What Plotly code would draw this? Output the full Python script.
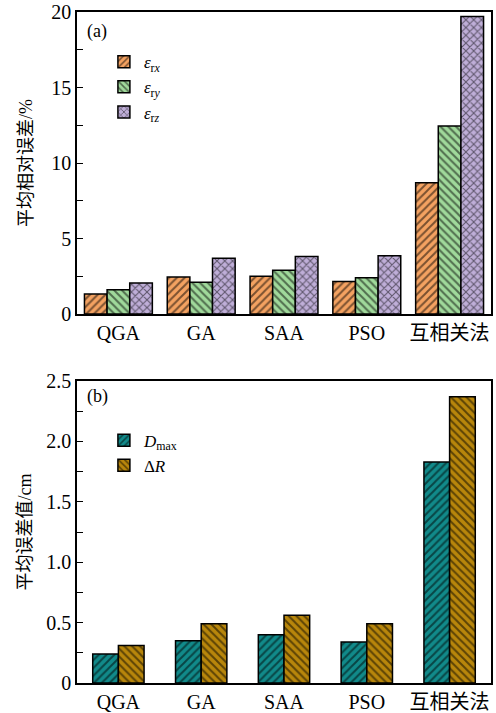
import plotly.graph_objects as go

categories = ["QGA", "GA", "SAA", "PSO", "互相关法"]
eps_rx = [1.32, 2.45, 2.5, 2.15, 8.7]
eps_ry = [1.6, 2.1, 2.9, 2.4, 12.45]
eps_rz = [2.05, 3.7, 3.8, 3.85, 19.7]
d_max = [0.24, 0.35, 0.40, 0.34, 1.83]
delta_r = [0.31, 0.49, 0.56, 0.49, 2.37]

ya_ticks = [0, 5, 10, 15, 20]
ya_ticktext = ["0", "5", "10", "15", "20"]
yb_ticks = [0, 0.5, 1.0, 1.5, 2.0, 2.5]
yb_ticktext = ["0", "0.5", "1.0", "1.5", "2.0", "2.5"]

SERIF = "Liberation Serif, DejaVu Serif, Noto Sans CJK SC"
CJK = "Liberation Serif, Noto Sans CJK SC"

fig = go.Figure()

def bar(x, y, name, color, shape, xa, ya, legend):
    return go.Bar(
        x=x, y=y, name=name, xaxis=xa, yaxis=ya, legend=legend,
        marker=dict(color=color, line=dict(color="black", width=1.5),
                    pattern=dict(shape=shape, fgcolor="black", size=5.5,
                                 solidity=0.35, fillmode="overlay")),
    )

fig.add_trace(bar(categories, eps_rx, "<i>ε</i><sub>r<i>x</i></sub>", "#F4A261", "/", "x", "y", "legend"))
fig.add_trace(bar(categories, eps_ry, "<i>ε</i><sub>r<i>y</i></sub>", "#A0D99B", "\\", "x", "y", "legend"))
fig.add_trace(bar(categories, eps_rz, "<i>ε</i><sub>r<i>z</i></sub>", "#BFAED8", "x", "x", "y", "legend"))
fig.add_trace(bar(categories, d_max, "<i>D</i><sub>max</sub>", "#118A8A", "/", "x2", "y2", "legend2"))
fig.add_trace(bar(categories, delta_r, "Δ<i>R</i>", "#B8860B", "\\", "x2", "y2", "legend2"))

axis_common = dict(showline=True, linecolor="black", linewidth=1.5, mirror=True,
                   showgrid=False, zeroline=False, automargin=False,
                   ticklabeloverflow="allow",
                   tickfont=dict(family=CJK, size=20, color="black"))

yb_d = 302 / 671
ya_d0 = (683 - 314) / 671

fig.update_layout(
    width=496, height=713,
    margin=dict(l=77, r=5, t=12, b=30),
    paper_bgcolor="white", plot_bgcolor="white",
    barmode="group",
    font=dict(family=SERIF, size=16, color="black"),
    xaxis=dict(domain=[0, 1], anchor="y", ticks="", **axis_common),
    yaxis=dict(domain=[ya_d0, 1], anchor="x", range=[0, 20],
               tickvals=ya_ticks, ticktext=ya_ticktext, ticks="inside", ticklen=6,
               tickcolor="black", tickwidth=1.2,
               minor=dict(dtick=2.5, ticks="inside", ticklen=6, tickcolor="black", tickwidth=1.2),
               title=dict(text="平均相对误差/%", font=dict(family=CJK, size=18), standoff=14),
               **axis_common),
    xaxis2=dict(domain=[0, 1], anchor="y2", ticks="", **axis_common),
    yaxis2=dict(domain=[0, yb_d], anchor="x2", range=[0, 2.5],
                tickvals=yb_ticks, ticktext=yb_ticktext, ticks="inside", ticklen=6,
                tickcolor="black", tickwidth=1.2,
                minor=dict(dtick=0.25, ticks="inside", ticklen=6, tickcolor="black", tickwidth=1.2),
                title=dict(text="平均误差值/cm", font=dict(family=CJK, size=18), standoff=10),
                **axis_common),
    bargap=0.18,
    legend=dict(x=0.065, y=0.952, xanchor="left", yanchor="top", bgcolor="rgba(0,0,0,0)",
                font=dict(family=SERIF, size=17), tracegroupgap=0, itemwidth=30),
    legend2=dict(x=0.065, y=yb_d - 0.062, xanchor="left", yanchor="top", bgcolor="rgba(0,0,0,0)",
                 font=dict(family=SERIF, size=17), tracegroupgap=0, itemwidth=30),
    annotations=[
        dict(text="(a)", x=0.02, y=0.99, xref="paper", yref="paper", xanchor="left",
             yanchor="top", showarrow=False, font=dict(family=SERIF, size=18)),
        dict(text="(b)", x=0.02, y=yb_d - 0.004, xref="paper", yref="paper", xanchor="left",
             yanchor="top", showarrow=False, font=dict(family=SERIF, size=18)),
    ],
)

fig.update_traces(selector=dict(xaxis="x2"), width=0.31)
fig.data[3].update(offset=-0.31)
fig.data[4].update(offset=0.0)

fig.write_html("out.html", config={"displayModeBar": False},
               post_script="document.body.style.margin='0';")
